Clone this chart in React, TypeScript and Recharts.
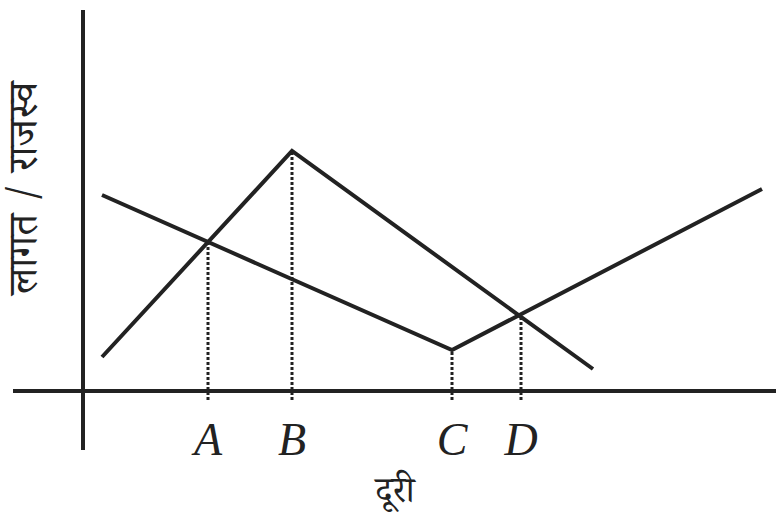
import React from "react";
import { LineChart, Line, XAxis, YAxis, ReferenceLine, Label } from "recharts";

// दूरी (distance) vs लागत / राजस्व (cost / revenue)
const revenueLine = [
  { x: 1.9, y: 3.4 },
  { x: 20.9, y: 24.0 },
  { x: 51.0, y: 2.2 },
];

const costLine = [
  { x: 1.9, y: 19.6 },
  { x: 36.9, y: 4.1 },
  { x: 67.9, y: 20.2 },
];

const tickLabels = ["A", "B", "C", "D"];
const dropX = [12.5, 20.9, 36.9, 43.8];
const dropY = [14.9, 24.0, 4.1, 7.6];

const ink = "#222";

export default function App() {
  return (
    <div style={{ position: "relative", width: 776, height: 522, background: "#fff" }}>
      <style>{"body{margin:0}"}</style>
      <LineChart width={776} height={522} margin={{ top: 10, right: 0, bottom: 72, left: 13 }}>
        <XAxis type="number" dataKey="x" domain={[-7, 69.3]} hide allowDataOverflow />
        <YAxis type="number" dataKey="y" domain={[-5.9, 38.1]} hide allowDataOverflow />

        <ReferenceLine x={0} stroke={ink} strokeWidth={4} />
        <ReferenceLine y={0} stroke={ink} strokeWidth={4} />

        {tickLabels.map((t, i) => (
          <ReferenceLine
            key={t}
            segment={[
              { x: dropX[i], y: -0.9 },
              { x: dropX[i], y: dropY[i] },
            ]}
            stroke={ink}
            strokeWidth={3}
            strokeDasharray="3 2"
          >
            <Label
              value={t}
              position="bottom"
              offset={22}
              fill={ink}
              fontSize={46}
              fontStyle="italic"
              fontFamily="'Liberation Serif', serif"
            />
          </ReferenceLine>
        ))}

        <Line
          data={revenueLine}
          dataKey="y"
          stroke={ink}
          strokeWidth={4}
          dot={false}
          activeDot={false}
          isAnimationActive={false}
        />
        <Line
          data={costLine}
          dataKey="y"
          stroke={ink}
          strokeWidth={4}
          dot={false}
          activeDot={false}
          isAnimationActive={false}
        />
      </LineChart>

      <div
        style={{
          position: "absolute",
          left: 31,
          top: 188,
          transform: "translate(-50%, -50%) rotate(-90deg)",
          whiteSpace: "nowrap",
          fontSize: 41,
          color: ink,
          fontFamily: "'Noto Serif Devanagari', 'Noto Sans Devanagari', serif",
        }}
      >
        लागत / राजस्व
      </div>
      <div
        style={{
          position: "absolute",
          left: 395,
          top: 496,
          transform: "translate(-50%, -50%)",
          whiteSpace: "nowrap",
          fontSize: 36,
          color: ink,
          fontFamily: "'Noto Serif Devanagari', 'Noto Sans Devanagari', serif",
        }}
      >
        दूरी
      </div>
    </div>
  );
}
